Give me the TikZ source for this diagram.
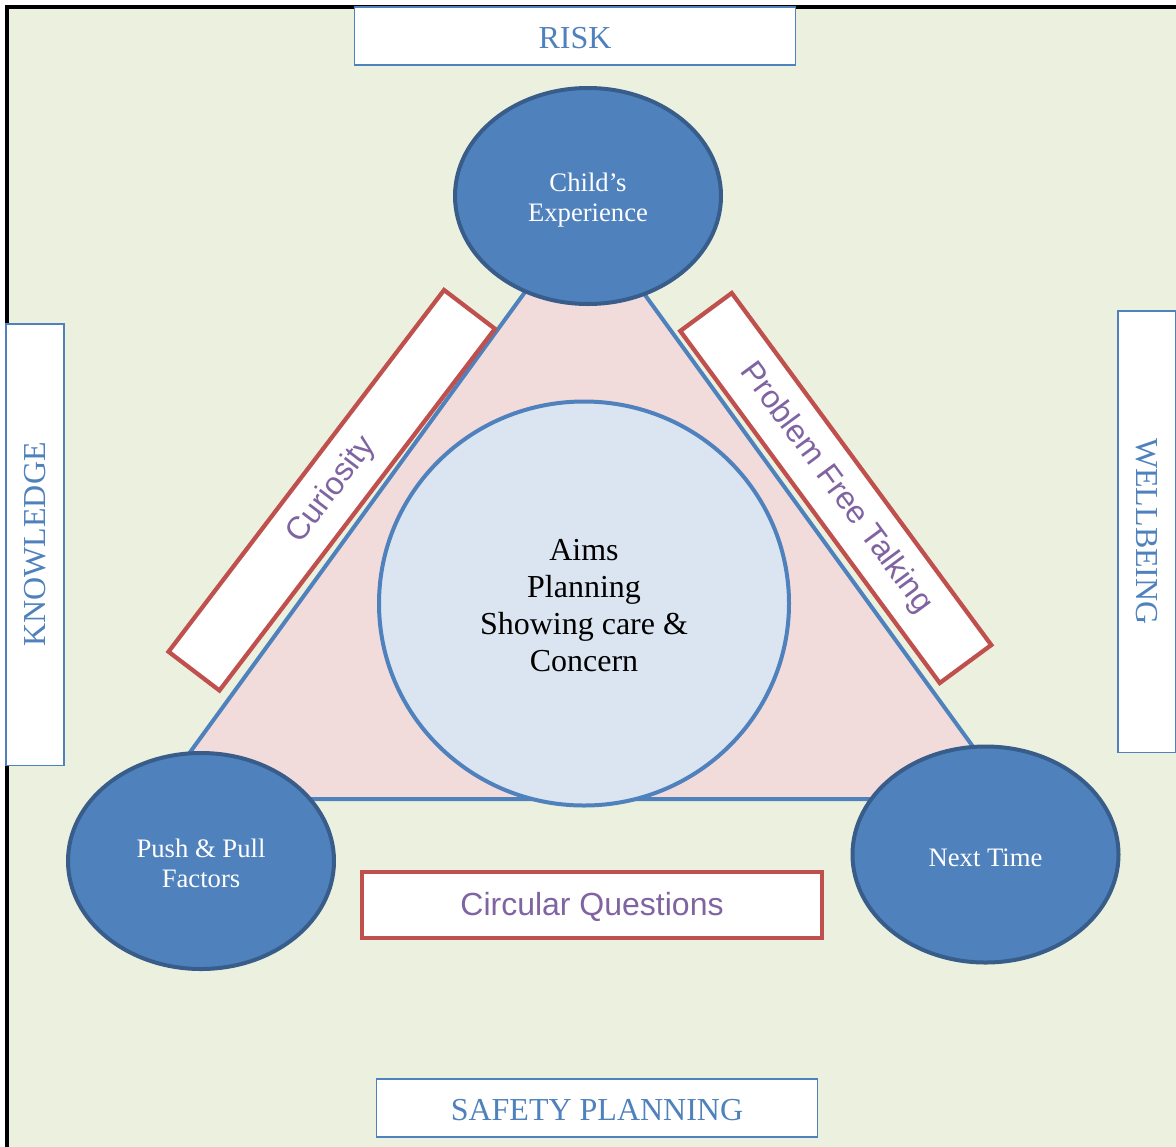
\documentclass[tikz,border=0pt]{standalone}
\usepackage{fontspec}
\setmainfont{Liberation Serif}
\newfontfamily\labelsans{Liberation Sans}
\usetikzlibrary{shapes.geometric}

\definecolor{pagegreen}{HTML}{EBF1DE}
\definecolor{accentblue}{HTML}{4F81BD}
\definecolor{darkblue}{HTML}{385D8A}
\definecolor{rosefill}{HTML}{F2DCDB}
\definecolor{paleblue}{HTML}{DBE5F1}
\definecolor{boxred}{HTML}{C0504D}
\definecolor{labelviolet}{HTML}{8064A2}

% zero-width strut that lowers a node's text a little
\newcommand{\lowerby}[1]{\rule{0pt}{#1}}

\begin{document}
\begin{tikzpicture}[x=0.75pt,y=-0.75pt,
  themebox/.style={draw=accentblue, line width=1pt, fill=white, inner sep=0pt,
    minimum width=331pt, minimum height=43.5pt, text=accentblue,
    font=\fontsize{24}{28}\selectfont},
  stage/.style={ellipse, draw=darkblue, line width=3pt, fill=accentblue,
    text=white, inner sep=0pt, minimum width=199.5pt, minimum height=162pt,
    align=center, font=\fontsize{20}{22.8}\selectfont},
  skillbox/.style={draw=boxred, line width=3.2pt, fill=white, inner sep=0pt,
    minimum height=48pt, text=labelviolet,
    font=\labelsans\fontsize{24}{28}\selectfont},
  core/.style={ellipse, draw=accentblue, line width=3pt, fill=paleblue,
    inner sep=0pt, minimum width=307.5pt, minimum height=303pt, align=center,
    font=\fontsize{24}{27.75}\selectfont}
]
% page frame and background
\useasboundingbox (0,0) rectangle (1176,1146);
\fill[white] (0,0) rectangle (1176,1146);
\fill[pagegreen] (7,7) rectangle (1177,1147);
\draw[line width=2.3pt] (7,1147) -- (7,7) -- (1177,7);

% central triangle
\coordinate (apex) at (584,211);
\coordinate (baseL) at (156,799);
\coordinate (baseR) at (1011,799);
\filldraw[fill=rosefill, draw=accentblue, line width=3pt]
  (apex) -- (baseL) -- (baseR) -- cycle;

% centre circle
\node[core] (centre) at (584,603.5) {\lowerby{19.6pt}Aims\\Planning\\Showing care \&\\Concern};

% corner stages
\node[stage] (child) at (588,196) {\lowerby{20pt}Child’s\\Experience};
\node[stage] (push) at (201,861) {\lowerby{17pt}Push \& Pull\\Factors};
\node[stage] (next) at (985.5,854.5) {\lowerby{18.4pt}Next Time};

% skills along the sides
\node[skillbox, rotate=52.7, minimum width=341pt] (curio) at (331.75,490.25) {Curiosity};
\node[skillbox, rotate=-53.6, minimum width=328pt] (pft) at (835.75,488) {Problem Free Talking};
\node[skillbox, minimum width=345pt, minimum height=49.5pt] (circq) at (592,905) {\lowerby{20.6pt}Circular Questions};

% outer themes
\node[themebox] (risk) at (575,36) {\lowerby{18.9pt}RISK};
\node[themebox] (safety) at (597,1108) {\lowerby{18.9pt}SAFETY PLANNING};
\node[themebox, rotate=90] (know) at (35,544.5) {KNOWLEDGE};
\node[themebox, rotate=-90] (well) at (1147,531.5) {WELLBEING};
\end{tikzpicture}
\end{document}
